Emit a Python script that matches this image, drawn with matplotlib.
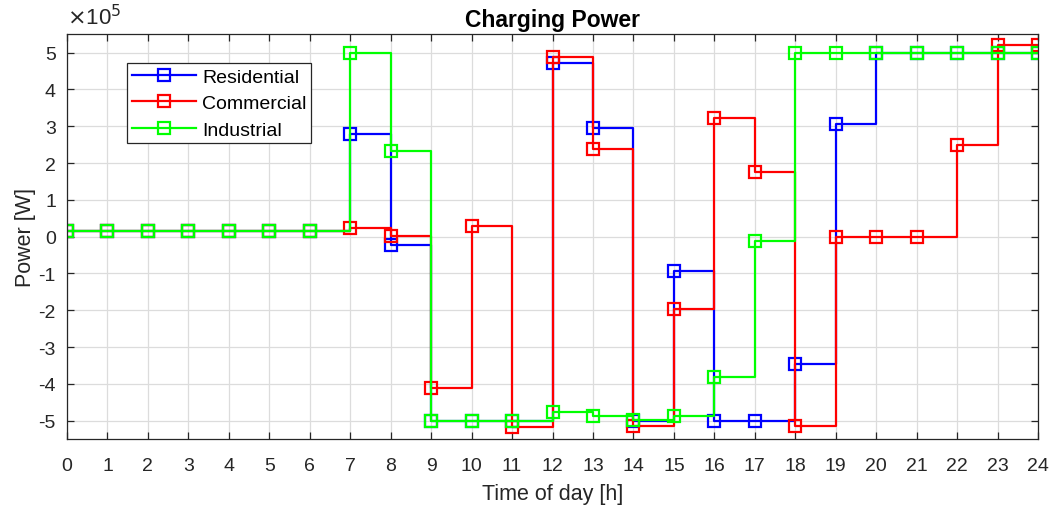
import numpy as np
import matplotlib
matplotlib.use("Agg")
import matplotlib.pyplot as plt
from matplotlib.ticker import FuncFormatter

plt.rcParams['font.family'] = ['Liberation Sans', 'DejaVu Sans']
plt.rcParams['axes.unicode_minus'] = False

hours = list(range(0, 25))
# values in units of 1e5 W
residential = [0.15, 0.15, 0.15, 0.15, 0.15, 0.15, 0.15, 2.8, -0.22, -5.0, -5.0, -5.0,
               4.73, 2.95, -5.0, -0.93, -5.0, -5.0, -3.45, 3.07, 5.0, 5.0, 5.0, 5.0, 5.0]
commercial = [0.15, 0.15, 0.15, 0.15, 0.15, 0.15, 0.15, 0.23, 0.01, -4.1, 0.3, -5.18,
              4.89, 2.39, -5.15, -1.96, 3.23, 1.76, -5.13, 0.0, 0.0, 0.0, 2.5, 5.21, 5.21]
industrial = [0.15, 0.15, 0.15, 0.15, 0.15, 0.15, 0.15, 5.0, 2.34, -5.0, -5.0, -5.0,
              -4.76, -4.86, -4.98, -4.87, -3.8, -0.11, 5.0, 5.0, 5.0, 5.0, 5.0, 5.0, 5.0]
series_names = ['Residential', 'Commercial', 'Industrial']
series_colors = ['#0000ff', '#ff0000', '#00ff00']
scale = 1e5

fig = plt.figure(figsize=(10.52, 5.10), dpi=100)
ax = fig.add_axes([0.0637, 0.137, 0.923, 0.794])

for vals, name, col in zip([residential, commercial, industrial], series_names, series_colors):
    ax.plot(hours, np.array(vals) * scale, drawstyle='steps-post', marker='s',
            markersize=9, markerfacecolor='none', markeredgewidth=1.6,
            color=col, linewidth=1.6, label=name)

ax.set_xlim(0, 24)
ax.set_ylim(-5.5e5, 5.5e5)
ax.set_xticks(hours)
ax.set_yticks(np.arange(-5, 6) * scale)
ax.yaxis.set_major_formatter(FuncFormatter(lambda v, p: f'{v / scale:g}'))
ax.text(0.0, 1.012, r'$\times$10$^{5}$', transform=ax.transAxes, fontsize=16,
        color='#262626', ha='left', va='bottom')

ax.grid(True, color='#dcdcdc', linewidth=0.9)
ax.set_axisbelow(True)
ax.tick_params(direction='in', top=True, right=True, length=5, width=0.9,
               colors='#262626', labelsize=14)
ax.tick_params(axis='x', pad=13)
ax.tick_params(axis='y', pad=8)
for s in ax.spines.values():
    s.set_color('#262626')
    s.set_linewidth(0.9)

ax.set_title('Charging Power', fontsize=16.5, fontweight='bold', pad=6)
ax.set_xlabel('Time of day [h]', fontsize=15.5, color='#262626', labelpad=6)
ax.set_ylabel('Power [W]', fontsize=15.5, color='#262626', labelpad=2)

leg = ax.legend(loc='upper left', bbox_to_anchor=(0.062, 0.928), fontsize=14,
                frameon=True, fancybox=False, edgecolor='#262626', framealpha=1,
                handlelength=3.3, borderpad=0.25, labelspacing=0.45, handletextpad=0.3,
                borderaxespad=0)
leg.get_frame().set_linewidth(0.9)

fig.savefig('out.png', dpi=100)
